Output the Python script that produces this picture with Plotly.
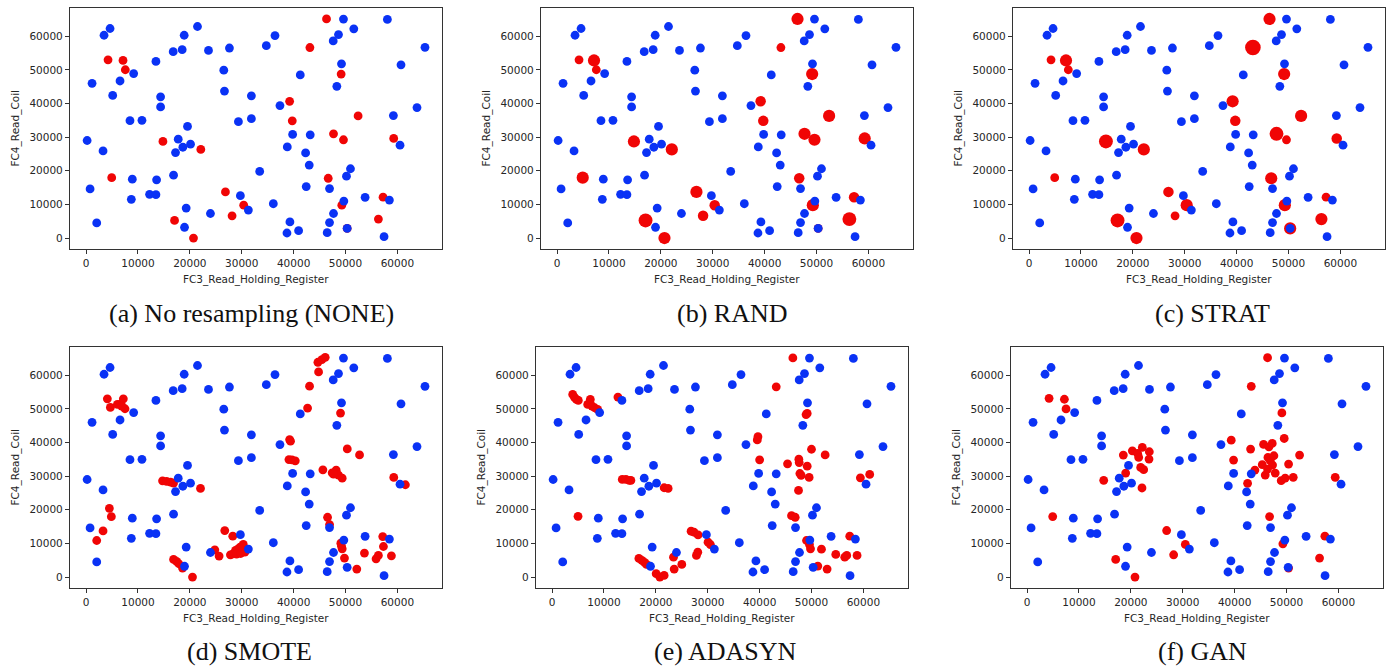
import plotly.graph_objects as go

# Majority-class (normal traffic) samples, identical in every panel
blue_x = [200, 1150, 770, 2050, 3270, 3460, 4620, 5130, 6540, 8460, 8720, 8910, 9170, 10770,
          12240, 13460, 13590, 13460, 14360, 14360, 16860, 17240, 16790, 17760, 18520, 18650,
          18910, 19290, 18970, 19550, 20130, 21470, 23590, 23970, 26540, 26670, 27630, 29360,
          29740, 31280, 31860, 31860, 33460, 34740, 36090, 36410, 37370, 38720, 38780, 39290,
          39810, 40960, 41280, 42310, 42430, 43010, 43200, 46470, 46920, 46920, 47690, 47630,
          48330, 48650, 49230, 49610, 49680, 50190, 50320, 50960, 51600, 53780, 57430, 58070,
          58460, 59230, 60510, 60700, 63780, 65320]
blue_y = [29000, 46000, 14600, 4500, 25900, 60300, 62300, 42400, 46700, 34900, 11500, 17500,
          48900, 35000, 13000, 12900, 17300, 52500, 42000, 39000, 18700, 25400, 55400, 29400,
          56000, 27000, 60300, 8900, 3200, 33200, 27900, 62900, 55800, 7300, 49900, 43700,
          56500, 34600, 12600, 8300, 42300, 35500, 19800, 57200, 10200, 60200, 39400, 1500,
          27100, 4800, 30800, 2200, 48500, 25300, 15300, 21700, 30700, 1600, 4600, 14700,
          7300, 58600, 45100, 60500, 51800, 65100, 11000, 18400, 2900, 20600, 62200, 12100,
          400, 65000, 11300, 36400, 27600, 51500, 38800, 56700]

# Minority-class (attack) samples before resampling
attack_x = [46340, 43140, 4230, 7120, 7560, 49160, 39230, 39740, 52430, 47690, 49610, 14810,
            22110, 4940, 46670, 26860, 30380, 49290, 17050, 28140, 20700, 50320, 56340, 57240,
            59290]
attack_y = [65140, 56650, 53000, 52800, 50040, 48760, 40660, 34840, 36320, 30990, 29220, 28720,
            26350, 17960, 17770, 13720, 9770, 9770, 5230, 6610, 0, 2860, 5630, 12140, 29610]

# How many copies of each attack sample the oversamplers produced
none_counts = [1] * 25
rand_counts = [3, 1, 1, 3, 1, 3, 2, 2, 3, 3, 3, 3, 3, 3, 2, 3, 2, 3, 4, 2, 3, 1, 4, 2, 3]
strat_counts = [3, 5, 1, 3, 1, 3, 3, 2, 3, 4, 1, 4, 3, 1, 3, 2, 3, 3, 4, 1, 3, 3, 3, 1, 2]

smote_x = [4100, 4680, 6030, 6730, 7180, 7500, 6860, 2050, 3270, 4490, 4870, 14740, 15510,
           16280, 16860, 22050, 16860, 17440, 17880, 18590, 20510, 24810, 25640, 26730, 28270,
           27820, 28300, 28800, 29300, 29700, 30300, 30600, 29000, 29800, 30100, 39100, 39680,
           40320, 39230, 39400, 42690, 43070, 44680, 45450, 46090, 44810, 49040, 45640, 47430,
           48200, 48650, 49360, 47690, 50340, 52710, 46540, 46930, 49100, 49360, 49800, 49230,
           52180, 53650, 55890, 56340, 57180, 57310, 58850, 59300, 61540]
smote_y = [53000, 50440, 51320, 51520, 53000, 50040, 50830, 10860, 13720, 20430, 17960, 28620,
           28420, 28230, 27930, 26350, 5230, 4640, 3950, 2660, 0, 8090, 6220, 13820, 12140,
           6610, 6900, 7900, 8400, 8900, 9700, 7400, 6800, 7000, 9200, 34940, 34840, 34550,
           40860, 40400, 50240, 56750, 63860, 64650, 65340, 61000, 48760, 31880, 30990, 31780,
           30300, 29410, 30600, 38100, 36320, 17770, 15590, 10070, 8390, 5630, 9180, 2370,
           7110, 5430, 6420, 12040, 9080, 6320, 29610, 27440]

adasyn_x = [3970, 4290, 4680, 5060, 5000, 7370, 6860, 7690, 8200, 8780, 7300, 12690, 13530,
            14230, 14870, 15190, 21600, 22370, 16730, 17310, 17820, 18200, 20060, 20770, 21600,
            23400, 23530, 25000, 26790, 27370, 28140, 27820, 28080, 30060, 30510, 39550, 39680,
            40000, 43200, 46410, 49170, 48950, 45380, 47560, 47630, 47760, 48000, 49170, 49550,
            50000, 52630, 47500, 46150, 46860, 49040, 49610, 49810, 51220, 51920, 53010, 54680,
            56410, 56790, 57370, 58780, 59420, 61220]
adasyn_y = [54290, 53500, 52800, 52510, 18060, 52800, 51320, 50830, 50340, 49840, 51800, 53500,
            29020, 29020, 28720, 28720, 26550, 26350, 5530, 4930, 4340, 3750, 990, 0, 490,
            5920, 2370, 3750, 13620, 13320, 12530, 6420, 7400, 10360, 9670, 40760, 41750,
            34840, 56560, 65140, 48660, 48300, 33660, 35040, 34050, 30790, 30200, 32970, 29610,
            38000, 36320, 25760, 18260, 17770, 10860, 9670, 8390, 3260, 8290, 2370, 6710, 5920,
            6420, 12140, 6420, 29510, 30500]

gan_x = [4240, 7190, 7510, 4940, 14770, 17080, 20800, 18550, 19000, 20290, 21310, 21510, 22210,
         21890, 22470, 23560, 23500, 22150, 26900, 28250, 30500, 39350, 39800, 43210, 46350,
         43080, 43910, 42500, 45330, 45580, 45900, 46610, 46420, 46870, 47250, 47310, 47570,
         47830, 46740, 49560, 49110, 48980, 49750, 50400, 51300, 52520, 49300, 50400, 56370,
         57400, 59390, 46350]
gan_y = [53150, 52860, 49990, 17980, 28750, 5240, 0, 36260, 30920, 37540, 36750, 35570, 38530,
         32600, 31910, 37250, 35070, 26480, 13830, 6620, 9680, 40700, 34780, 56710, 65210,
         38040, 31810, 27860, 33400, 39420, 30330, 38730, 35570, 34580, 39720, 33300, 36060,
         30920, 17980, 41200, 48810, 28650, 29440, 33590, 29640, 36260, 9880, 2670, 5630,
         12150, 29640, 32110]

captions = ["(a) No resampling (NONE)", "(b) RAND", "(c) STRAT",
            "(d) SMOTE", "(e) ADASYN", "(f) GAN"]

panels = [
    (attack_x, attack_y, none_counts),
    (attack_x, attack_y, rand_counts),
    (attack_x, attack_y, strat_counts),
    (smote_x, smote_y, None),
    (adasyn_x, adasyn_y, None),
    (gan_x, gan_y, None),
]

W, H = 1392, 668
BLUE = "rgb(10,50,245)"
RED = "rgb(240,5,5)"
BASE = 8.8

# axes boxes in pixels: (left, right, top, bottom)
boxes = [
    (70, 442, 8, 249), (541, 913, 8, 249), (1013, 1385, 8, 249),
    (70, 442, 347, 588), (536, 908, 347, 588), (1011, 1383, 347, 588),
]
caption_pos = [(251, 313), (732, 313), (1212, 313), (250, 651), (725, 651), (1202, 651)]


def marker_diam(c):
    return BASE + 1.7 * (c - 1)


fig = go.Figure()
annotations = []
tickvals = [0, 10000, 20000, 30000, 40000, 50000, 60000]

for i, ((rx, ry, counts), (l, r, t, b)) in enumerate(zip(panels, boxes)):
    n = i + 1
    xa = "x" if n == 1 else f"x{n}"
    ya = "y" if n == 1 else f"y{n}"
    sizes = [marker_diam(c) for c in counts] if counts else BASE
    fig.add_trace(go.Scatter(x=rx, y=ry, mode="markers", xaxis=xa, yaxis=ya,
                             marker=dict(color=RED, size=sizes, opacity=1, line=dict(width=0)),
                             showlegend=False, hoverinfo="x+y"))
    fig.add_trace(go.Scatter(x=blue_x, y=blue_y, mode="markers", xaxis=xa, yaxis=ya,
                             marker=dict(color=BLUE, size=BASE, opacity=1, line=dict(width=0)),
                             showlegend=False, hoverinfo="x+y"))
    axis_common = dict(showgrid=False, zeroline=False, showline=True, mirror=True,
                       linecolor="#333333", linewidth=1.2, ticks="outside", ticklen=4,
                       tickcolor="#333333", tickvals=tickvals,
                       ticktext=[str(v) for v in tickvals],
                       tickfont=dict(family="DejaVu Sans", size=10.5, color="#262626"))
    fig.layout[("xaxis" if n == 1 else f"xaxis{n}")] = dict(
        domain=[l / W, r / W], range=[-3100, 68600], anchor=ya, **axis_common)
    fig.layout[("yaxis" if n == 1 else f"yaxis{n}")] = dict(
        domain=[1 - b / H, 1 - t / H], range=[-3260, 68400], anchor=xa, **axis_common)

    annotations.append(dict(text="FC3_Read_Holding_Register", xref="paper", yref="paper",
                            x=(l + r) / 2 / W, y=1 - (b + 30) / H, showarrow=False,
                            xanchor="center", yanchor="middle",
                            font=dict(family="DejaVu Sans", size=10.5, color="#262626")))
    annotations.append(dict(text="FC4_Read_Coil", xref="paper", yref="paper",
                            x=(l - 55) / W, y=1 - (t + b) / 2 / H, showarrow=False,
                            textangle=-90, xanchor="center", yanchor="middle",
                            font=dict(family="DejaVu Sans", size=10.5, color="#262626")))
    cx, cy = caption_pos[i]
    annotations.append(dict(text=captions[i], xref="paper", yref="paper",
                            x=cx / W, y=1 - cy / H, showarrow=False,
                            xanchor="center", yanchor="middle",
                            font=dict(family="Liberation Serif", size=26, color="#111111")))

fig.update_layout(width=W, height=H, margin=dict(l=0, r=0, t=0, b=0),
                  paper_bgcolor="white", plot_bgcolor="white",
                  annotations=annotations)

fig.write_html("out.html")
